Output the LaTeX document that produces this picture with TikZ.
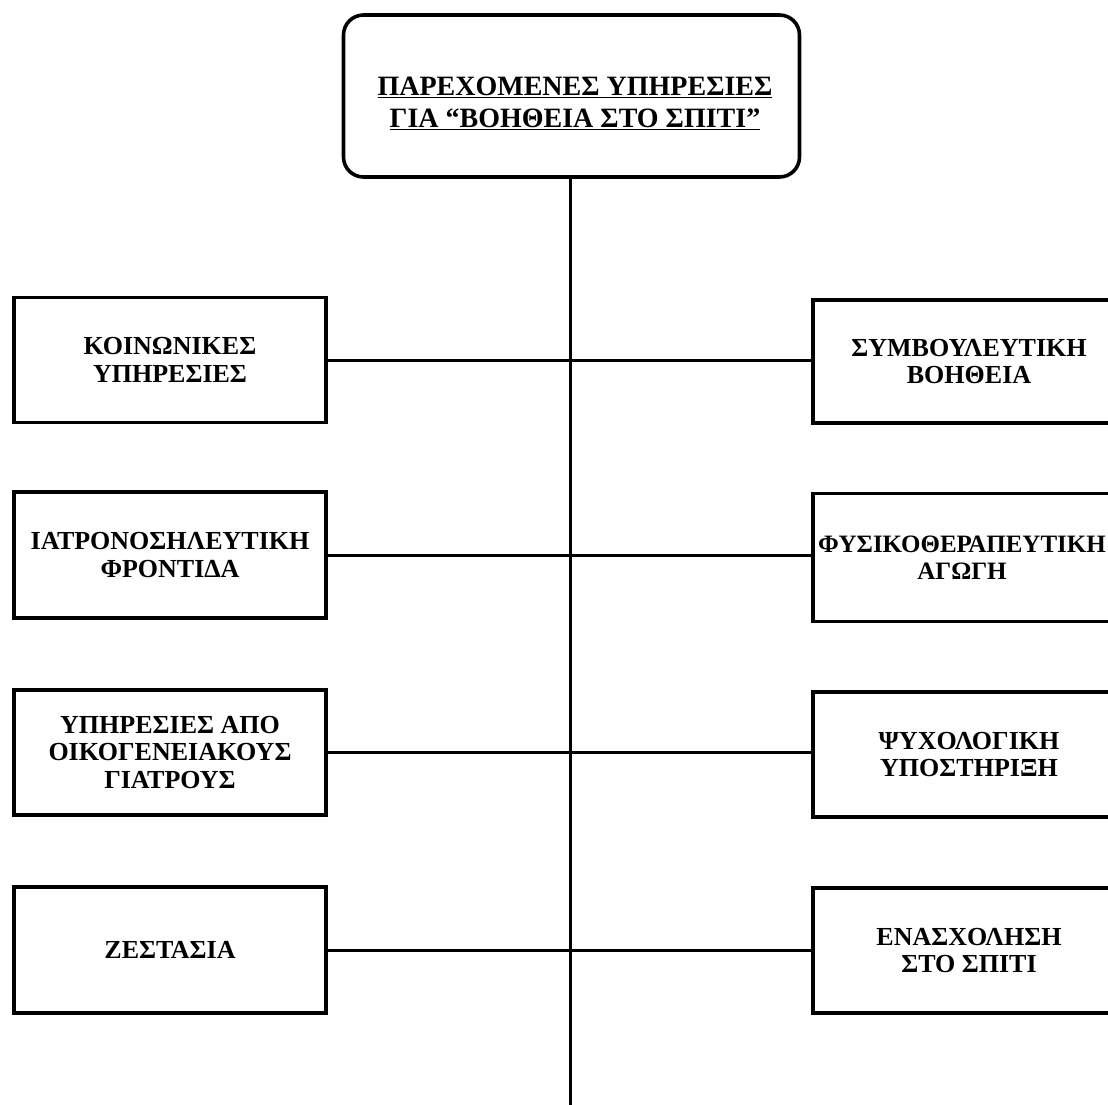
\documentclass[tikz,border=0pt]{standalone}
\usepackage{fontspec}
\setmainfont{Liberation Serif}
\begin{document}
\begin{tikzpicture}[x=1pt,y=-1pt,
  box/.style={draw=black,line width=3.6pt,minimum width=312pt,inner sep=0pt},
  lbl/.style={font=\bfseries\fontsize{26}{27.5}\selectfont,align=center,inner sep=0pt},
  conn/.style={draw=black,line width=3pt}]
\useasboundingbox (0,0) rectangle (1108,1104);
\clip (0,0) rectangle (1108,1104);
% top box
\node[draw=black,line width=3.6pt,rounded corners=20pt,minimum width=456pt,minimum height=162pt,inner sep=0pt] (top) at (571.5,96) {};
\node[font=\bfseries\fontsize{28}{32}\selectfont,align=center,inner sep=0pt] (toptext) at (575,103)
  {\underline{ΠΑΡΕΧΟΜΕΝΕΣ ΥΠΗΡΕΣΙΕΣ}\\\underline{ΓΙΑ “ΒΟΗΘΕΙΑ ΣΤΟ ΣΠΙΤΙ”}};
\coordinate (bottom) at (570,1110);
% left boxes
\node[box,minimum height=125pt,lbl] (l1) at (170,360) {ΚΟΙΝΩΝΙΚΕΣ\\ΥΠΗΡΕΣΙΕΣ};
\node[box,minimum height=126pt,lbl] (l2) at (170,555) {ΙΑΤΡΟΝΟΣΗΛΕΥΤΙΚΗ\\ΦΡΟΝΤΙΔΑ};
\node[box,minimum height=125pt,lbl] (l3) at (170,752.5) {ΥΠΗΡΕΣΙΕΣ ΑΠΟ\\ΟΙΚΟΓΕΝΕΙΑΚΟΥΣ\\ΓΙΑΤΡΟΥΣ};
\node[box,minimum height=126pt,lbl] (l4) at (170,950) {ΖΕΣΤΑΣΙΑ};
% right boxes
\node[box,minimum height=123pt,lbl] (r1) at (969,361.5) {ΣΥΜΒΟΥΛΕΥΤΙΚΗ\\ΒΟΗΘΕΙΑ};
\node[box,minimum height=128pt] (r2) at (969,557.5) {};
\node[lbl,font=\bfseries\fontsize{25}{27.5}\selectfont] (t2) at (962,557.5) {ΦΥΣΙΚΟΘΕΡΑΠΕΥΤΙΚΗ\\ΑΓΩΓΗ};
\node[box,minimum height=125pt,lbl] (r3) at (969,754.5) {ΨΥΧΟΛΟΓΙΚΗ\\ΥΠΟΣΤΗΡΙΞΗ};
\node[box,minimum height=125pt,lbl] (r4) at (969,950.5) {ΕΝΑΣΧΟΛΗΣΗ\\ΣΤΟ ΣΠΙΤΙ};
% connectors
\draw[conn] (top.south -| bottom) -- (bottom);
\foreach \i in {1,2,3,4}{
  \draw[conn] (l\i.east) -- (l\i.east -| r\i.west);
}
\end{tikzpicture}
\end{document}
